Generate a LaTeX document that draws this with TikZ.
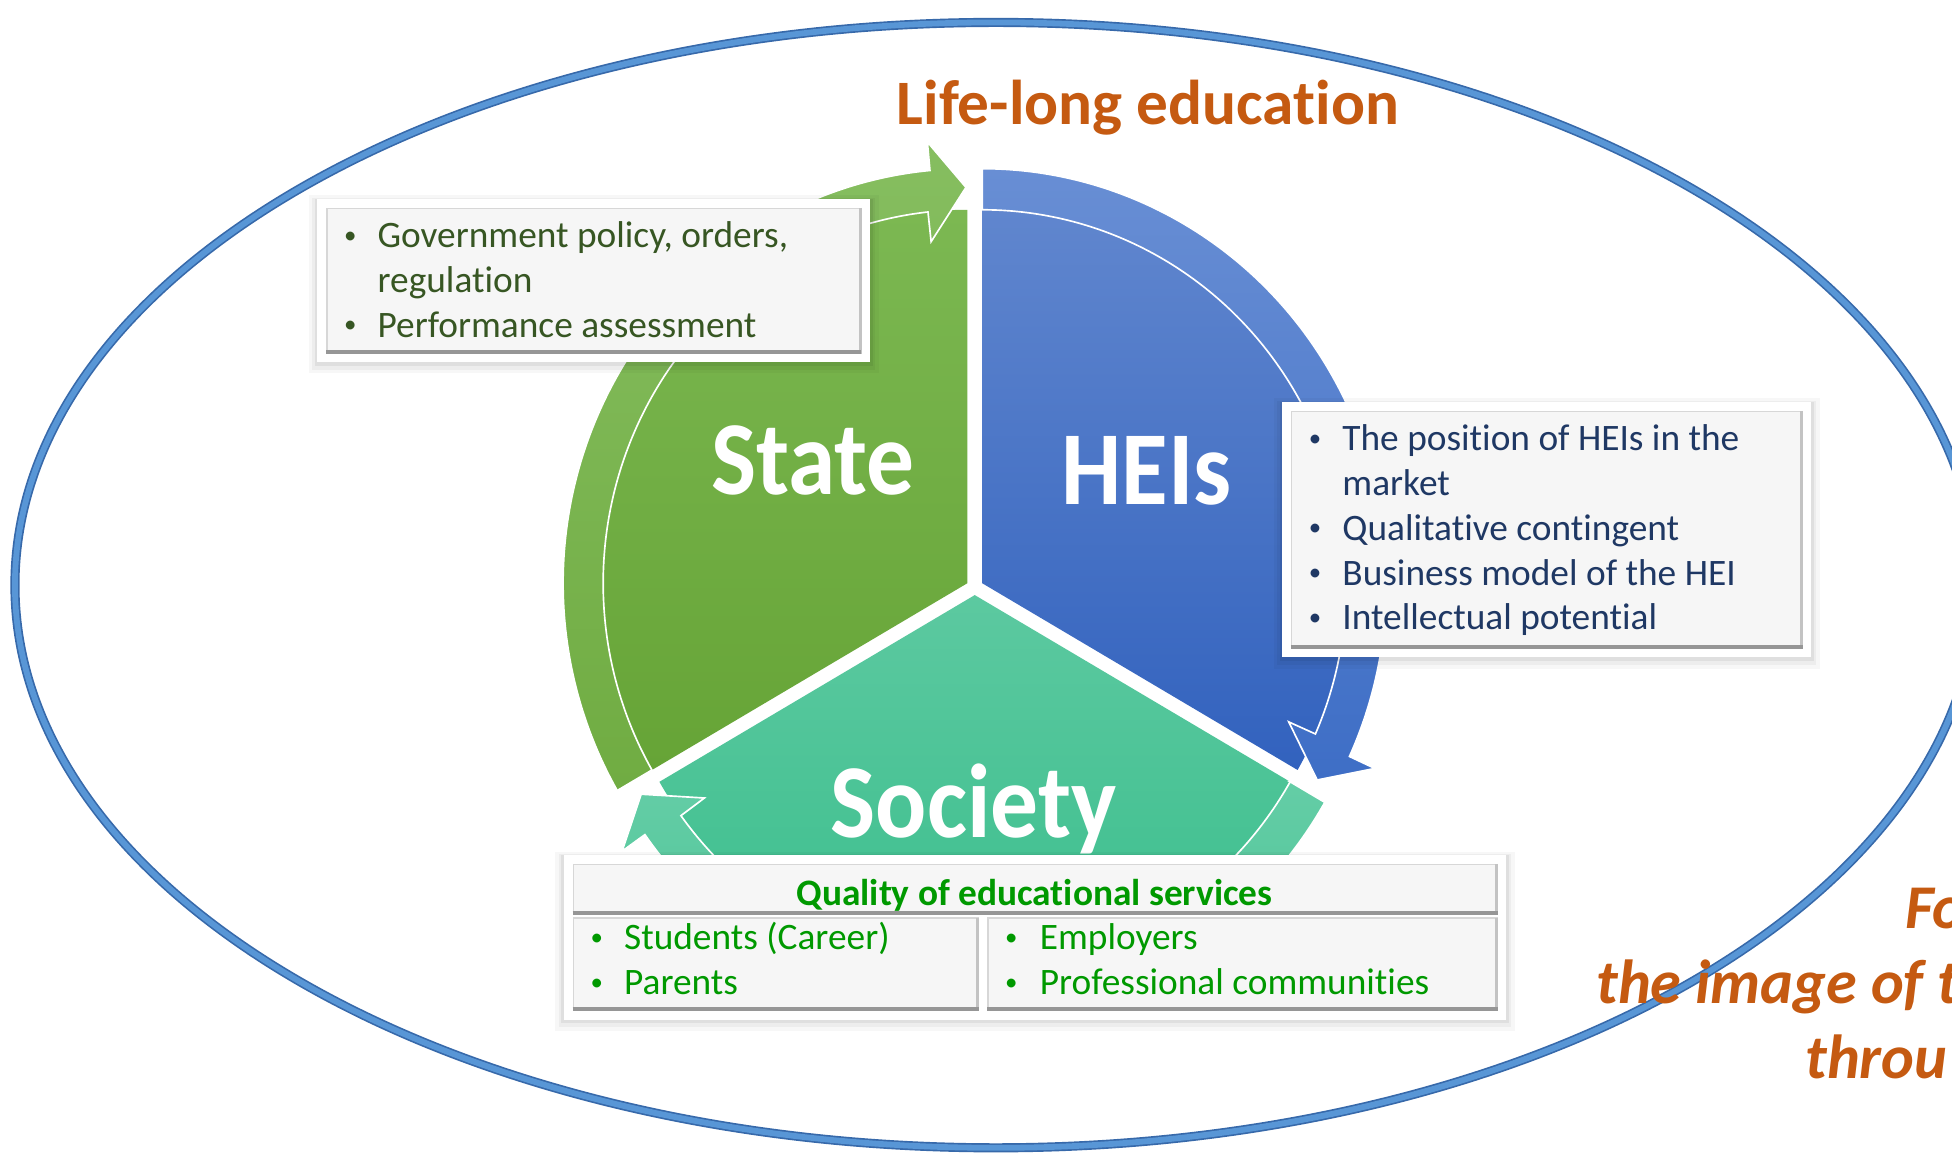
\documentclass[tikz,border=0pt]{standalone}
\usepackage{fontspec}
\setmainfont{Carlito}[Ligatures={NoCommon,NoRare,NoContextual}, RawFeature={-liga;-clig;-dlig}]
\usepackage{graphicx}
\definecolor{orng}{RGB}{197,90,17}
\definecolor{ellb}{RGB}{88,150,214}
\definecolor{elld}{RGB}{55,105,170}
\definecolor{gA}{RGB}{124,184,82}
\definecolor{gB}{RGB}{102,164,54}
\definecolor{gRA}{RGB}{134,190,96}
\definecolor{gRB}{RGB}{112,172,66}
\definecolor{bA}{RGB}{96,134,206}
\definecolor{bB}{RGB}{50,98,190}
\definecolor{bRA}{RGB}{104,142,212}
\definecolor{bRB}{RGB}{62,110,198}
\definecolor{tA}{RGB}{92,201,160}
\definecolor{tB}{RGB}{56,189,139}
\definecolor{tRA}{RGB}{100,205,166}
\definecolor{tRB}{RGB}{76,196,150}
\definecolor{sgreen}{RGB}{55,86,35}
\definecolor{hblue}{RGB}{31,56,100}
\definecolor{qgreen}{RGB}{0,153,0}
\definecolor{panel}{RGB}{246,246,246}
\definecolor{bevL}{RGB}{215,215,215}
\definecolor{bevD}{RGB}{150,150,150}
\definecolor{bevR}{RGB}{195,195,195}
\newcommand{\outerbox}[4]{%
  \fill[black,opacity=0.03] (#1-7,-#2+3) rectangle (#3+7,-#4-9);
  \fill[black,opacity=0.04] (#1-4,-#2+1) rectangle (#3+4,-#4-6);
  \fill[black,opacity=0.06] (#1-2,-#2) rectangle (#3+2,-#4-3);
  \fill[white] (#1,-#2) rectangle (#3,-#4);}
\newcommand{\bevpanel}[4]{%
  \fill[panel] (#1,-#2) rectangle (#3,-#4);
  \draw[line width=0.7pt, bevL] (#1+0.5,-#4) -- (#1+0.5,-#2-0.5) -- (#3,-#2-0.5);
  \draw[line width=1.3pt, bevR] (#3-1,-#2) -- (#3-1,-#4);
  \draw[line width=1.8pt, bevD] (#1,-#4+1.5) -- (#3,-#4+1.5);}
\newcommand{\smbul}{{\fontsize{12}{14}\selectfont\raisebox{2.2pt}{•}}}
\tikzset{
  btxt/.style={anchor=base west, inner sep=0pt, font=\fontsize{18}{21.6}\selectfont},
  biglbl/.style={anchor=base, inner sep=0pt, text=white, font=\fontsize{46}{50}\selectfont\bfseries},
  orgtxt/.style={anchor=base west, inner sep=0pt, text=orng, font=\fontsize{30}{36}\selectfont\bfseries\itshape},
  ringedge/.style={draw=white, line width=0.8pt}
}
\begin{document}
\begin{tikzpicture}[x=0.6pt,y=0.6pt]
\useasboundingbox (0,0) rectangle (1568,-928);
\begin{scope}
\clip (0,0) rectangle (1568,-928);
\fill[white] (0,0) rectangle (1568,-928);
% outer ellipse
\draw[line width=4.4pt, elld] (800,-470) ellipse [x radius=788, y radius=452];
\draw[line width=2.8pt, ellb] (800,-470) ellipse [x radius=788, y radius=452];
% title
\node[anchor=base, inner sep=0pt, text=orng, font=\fontsize{30.5}{36}\selectfont\bfseries] (life) at (922,-100) {Life-long education};
% State segment
\begin{scope}[shift={(777,-468.5)}, xscale=0.975]
  \shade[top color=gA, bottom color=gB] (0,0) -- (210:300) arc[start angle=210,end angle=90,radius=300] -- cycle;
  \shadedraw[top color=gRA, bottom color=gRB, ringedge] (210:300) -- (210:333) arc[start angle=210,end angle=95.3,radius=333] -- (95.3:356) -- (90.2:318) -- (96.2:276) -- (96.2:300) arc[start angle=96.2,end angle=210,radius=300] -- cycle;
\end{scope}
% HEIs segment
\begin{scope}[shift={(789,-468.5)}, xscale=0.975]
  \shade[top color=bA, bottom color=bB] (0,0) -- (90:300) arc[start angle=90,end angle=-30,radius=300] -- cycle;
  \shadedraw[top color=bRA, bottom color=bRB, ringedge] (90:300) -- (90:333) arc[start angle=90,end angle=-24.7,radius=333] -- (-24.7:356) -- (-29.8:318) -- (-23.8:276) -- (-23.8:300) arc[start angle=-23.8,end angle=90,radius=300] -- cycle;
\end{scope}
% Society segment
\begin{scope}[shift={(783,-478)}, xscale=0.975]
  \shade[top color=tA, bottom color=tB] (0,0) -- (-30:300) arc[start angle=-30,end angle=-150,radius=300] -- cycle;
  \shadedraw[top color=tRA, bottom color=tRB, ringedge] (-30:300) -- (-30:333) arc[start angle=-30,end angle=-144.7,radius=333] -- (-144.7:356) -- (-149.8:318) -- (-143.8:276) -- (-143.8:300) arc[start angle=-143.8,end angle=-30,radius=300] -- cycle;
\end{scope}
% segment labels
\node[biglbl] (state) at (653,-397) {\scalebox{1}[1.1]{State}};
\node[biglbl] (heis) at (921,-405) {\scalebox{1}[1.1]{HEIs}};
\node[biglbl] (society) at (782,-673) {\scalebox{1}[1.1]{Society}};
% State box
\outerbox{255}{160}{699}{291}
\bevpanel{262}{167}{692}{284}
\node[btxt, text=sgreen] (sb1) at (276,-199) {\smbul};
\node[btxt, text=sgreen] (st1) at (303,-199) {Government policy, orders,};
\node[btxt, text=sgreen] (st1b) at (303,-235) {regulation};
\node[btxt, text=sgreen] (sb2) at (276,-271) {\smbul};
\node[btxt, text=sgreen] (st2) at (303,-271) {Performance assessment};
% HEIs box
\outerbox{1030}{323}{1455}{528}
\bevpanel{1037}{330}{1448}{521}
\node[btxt, text=hblue] (hb1) at (1051,-362) {\smbul};
\node[btxt, text=hblue] (ht1) at (1078,-362) {The position of HEIs in the};
\node[btxt, text=hblue] (ht1b) at (1078,-398) {market};
\node[btxt, text=hblue] (hb2) at (1051,-434) {\smbul};
\node[btxt, text=hblue] (ht2) at (1078,-434) {Qualitative contingent};
\node[btxt, text=hblue] (hb3) at (1051,-470) {\smbul};
\node[btxt, text=hblue] (ht3) at (1078,-470) {Business model of the HEI};
\node[btxt, text=hblue] (hb4) at (1051,-506) {\smbul};
\node[btxt, text=hblue] (ht4) at (1078,-506) {Intellectual potential};
% Society box
\outerbox{453}{687}{1210}{819}
\bevpanel{460}{694}{1203}{735}
\bevpanel{460}{737}{786}{812}
\bevpanel{793}{737}{1203}{812}
\node[anchor=base, inner sep=0pt, text=qgreen, font=\fontsize{18}{21.6}\selectfont\bfseries] (qual) at (831,-727) {Quality of educational services};
\node[btxt, text=qgreen] (qb1) at (474,-763) {\smbul};
\node[btxt, text=qgreen] (qt1) at (501,-763) {Students (Career)};
\node[btxt, text=qgreen] (qb2) at (474,-799) {\smbul};
\node[btxt, text=qgreen] (qt2) at (501,-799) {Parents};
\node[btxt, text=qgreen] (qb3) at (807,-763) {\smbul};
\node[btxt, text=qgreen] (qt3) at (835,-763) {Employers};
\node[btxt, text=qgreen] (qb4) at (807,-799) {\smbul};
\node[btxt, text=qgreen] (qt4) at (835,-799) {Professional communities};
% cut-off orange text (cut at the picture's edge, as in the reference)
\node[orgtxt] (fo) at (1530,-746) {Fo};
\node[orgtxt] (img) at (1282,-806) {the image of t};
\node[orgtxt] (thr) at (1450,-866) {throu};
\end{scope}
\end{tikzpicture}
\end{document}
